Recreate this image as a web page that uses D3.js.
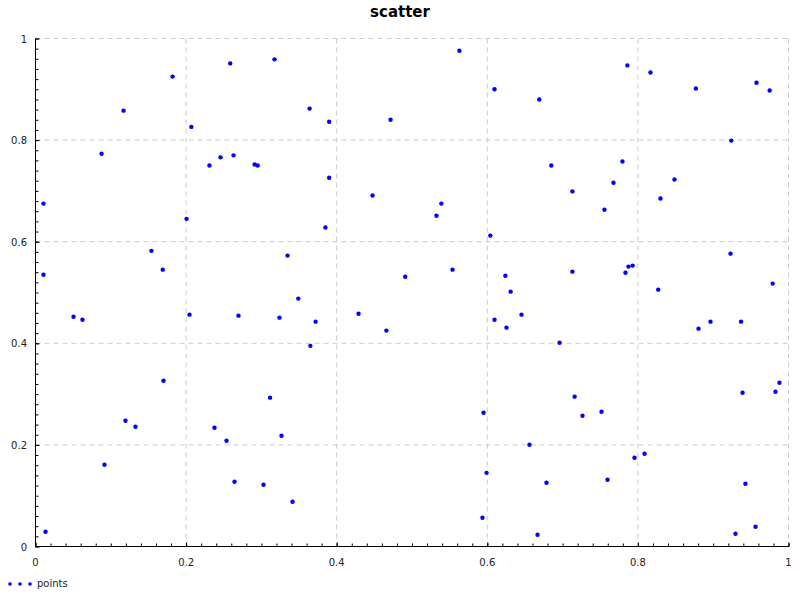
<!DOCTYPE html>
<html>
<head>
<meta charset="utf-8">
<script src="https://cdn.jsdelivr.net/npm/d3@7"></script>
<style>
  body { margin: 0; background: #fff; }
  text { font-family: "DejaVu Sans", sans-serif; fill: #222; }
</style>
</head>
<body>
<script>
const title = 'scatter',
  seriesName = 'points';

const xs = [
  0.0106, 0.0106, 0.0877, 0.1169, 0.182, 0.207, 0.2006, 0.154, 0.169, 0.231,
  0.2457, 0.2586, 0.263, 0.291, 0.295, 0.3174, 0.364, 0.390, 0.4715, 0.563,
  0.6096, 0.390, 0.4476, 0.539, 0.5325, 0.385, 0.604, 0.3347, 0.5538, 0.491,
  0.624, 0.631, 0.349, 0.786, 0.8167, 0.877, 0.9575, 0.975, 0.669, 0.924,
  0.685, 0.7795, 0.7676, 0.713, 0.8486, 0.830, 0.7556, 0.923, 0.713, 0.7875,
  0.793, 0.7835, 0.979, 0.827, 0.0505, 0.0624, 0.2045, 0.2696, 0.170, 0.1195,
  0.1328, 0.2377, 0.2537, 0.0916, 0.2643, 0.3028, 0.0133, 0.3115, 0.324, 0.372,
  0.365, 0.429, 0.466, 0.6096, 0.6255, 0.6454, 0.3267, 0.3413, 0.595, 0.599,
  0.5936, 0.656, 0.8805, 0.8964, 0.937, 0.696, 0.716, 0.7264, 0.7517, 0.988,
  0.9827, 0.939, 0.7955, 0.8088, 0.6786, 0.7597, 0.9428, 0.6667, 0.9296, 0.9562
];
const ys = [
  0.675, 0.535, 0.773, 0.858, 0.925, 0.826, 0.645, 0.582, 0.545, 0.750,
  0.766, 0.951, 0.770, 0.752, 0.750, 0.959, 0.862, 0.836, 0.840, 0.976,
  0.900, 0.726, 0.691, 0.675, 0.651, 0.628, 0.612, 0.5726, 0.545, 0.531,
  0.533, 0.5017, 0.488, 0.947, 0.933, 0.9015, 0.913, 0.8976, 0.880, 0.799,
  0.750, 0.758, 0.716, 0.699, 0.7223, 0.685, 0.663, 0.5765, 0.541, 0.551,
  0.553, 0.539, 0.5175, 0.5056, 0.4524, 0.4465, 0.4564, 0.4544, 0.3264, 0.2476,
  0.2358, 0.2338, 0.2082, 0.161, 0.1274, 0.1215, 0.029, 0.293, 0.4505, 0.4426,
  0.395, 0.4583, 0.425, 0.4465, 0.4308, 0.4564, 0.218, 0.088, 0.2633, 0.145,
  0.0565, 0.2003, 0.4288, 0.4426, 0.4426, 0.401, 0.295, 0.2574, 0.2653, 0.3224,
  0.3047, 0.3027, 0.1747, 0.1826, 0.1255, 0.1314, 0.1235, 0.023, 0.025, 0.0388
];
const majorTicks = [0, 0.2, 0.4, 0.6, 0.8, 1];
const tickLabels = ['0', '0.2', '0.4', '0.6', '0.8', '1'];

const width = 800,
  height = 600,
  plotLeft = 35.5,
  plotRight = 788.5,
  plotTop = 38.5,
  plotBottom = 546.5;

const svg = d3.select('body').append('svg')
  .attr('width', width)
  .attr('height', height);

const x = d3.scaleLinear().domain([0, 1]).range([plotLeft, plotRight]);
const y = d3.scaleLinear().domain([0, 1]).range([plotBottom, plotTop]);
const minor = d3.range(0, 51).map(i => i / 50);

// grid
const grid = svg.append('g')
  .attr('stroke', '#cccccc')
  .attr('stroke-dasharray', '5,4');
grid.selectAll('.gx').data(majorTicks.slice(1)).join('line')
  .attr('class', 'gx')
  .attr('x1', d => x(d)).attr('x2', d => x(d))
  .attr('y1', plotTop).attr('y2', plotBottom);
grid.selectAll('.gy').data(majorTicks.slice(1)).join('line')
  .attr('class', 'gy')
  .attr('x1', plotLeft).attr('x2', plotRight)
  .attr('y1', d => y(d)).attr('y2', d => y(d));

// axes: minor and major ticks pointing inward
function ticks(axis, values, size) {
  const g = svg.append('g').call(axis.tickValues(values).tickSize(size).tickFormat('').tickSizeOuter(0));
  g.select('.domain').remove();
  return g;
}
ticks(d3.axisTop(x), minor, 3).attr('transform', `translate(0,${plotBottom})`);
ticks(d3.axisTop(x), majorTicks, 4).attr('transform', `translate(0,${plotBottom})`);
ticks(d3.axisRight(y), minor, 3).attr('transform', `translate(${plotLeft},0)`);
ticks(d3.axisRight(y), majorTicks, 4).attr('transform', `translate(${plotLeft},0)`);

svg.append('line')
  .attr('x1', plotLeft).attr('x2', plotRight + 0.5)
  .attr('y1', plotBottom).attr('y2', plotBottom)
  .attr('stroke', '#000');
svg.append('line')
  .attr('x1', plotLeft).attr('x2', plotLeft)
  .attr('y1', plotTop).attr('y2', plotBottom)
  .attr('stroke', '#000');

svg.selectAll('.xl').data(majorTicks).join('text')
  .attr('class', 'xl')
  .attr('x', d => x(d))
  .attr('y', 566)
  .attr('text-anchor', 'middle')
  .attr('font-size', 10)
  .text((d, i) => tickLabels[i]);

svg.selectAll('.yl').data(majorTicks).join('text')
  .attr('class', 'yl')
  .attr('x', 27)
  .attr('y', d => y(d) + 4)
  .attr('text-anchor', 'end')
  .attr('font-size', 10)
  .text((d, i) => tickLabels[i]);

// points
svg.append('g').selectAll('circle').data(xs).join('circle')
  .attr('cx', d => x(d))
  .attr('cy', (d, i) => y(ys[i]))
  .attr('r', 2.2)
  .attr('fill', '#0000ff');

// title
svg.append('text')
  .attr('x', 400)
  .attr('y', 17)
  .attr('text-anchor', 'middle')
  .attr('font-size', 15)
  .attr('font-weight', 'bold')
  .style('fill', '#000')
  .text(title);

// legend
svg.append('g').selectAll('circle').data([10, 20, 30]).join('circle')
  .attr('cx', d => d)
  .attr('cy', 584)
  .attr('r', 1.8)
  .attr('fill', '#0000ff');
svg.append('text')
  .attr('x', 37)
  .attr('y', 587)
  .attr('font-size', 10)
  .text(seriesName);
</script>
</body>
</html>
